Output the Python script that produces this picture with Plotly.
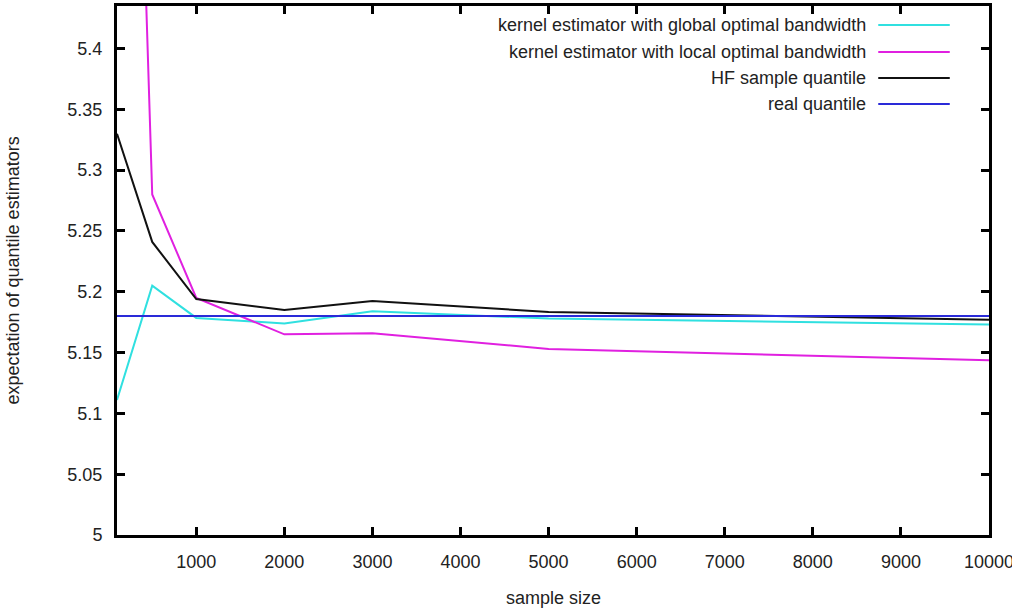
"""Expectation of quantile estimators vs sample size (gnuplot-style line chart)."""

import plotly.graph_objects as go

# sample sizes at which the estimators were evaluated
sample_size = [100, 500, 1000, 2000, 3000, 5000, 10000]

# expectation of each estimator
kernel_global = [5.111, 5.205, 5.1785, 5.174, 5.184, 5.178, 5.173]
kernel_local = [6.2, 5.28, 5.195, 5.165, 5.166, 5.153, 5.1437]
hf_sample = [5.330, 5.241, 5.194, 5.185, 5.1925, 5.1834, 5.177]
real_quantile = [5.18] * len(sample_size)

series_names = [
    "kernel estimator with global optimal bandwidth",
    "kernel estimator with local optimal bandwidth",
    "HF sample quantile",
    "real quantile",
]
series_colors = ["#30e0e0", "#e020e0", "#111111", "#2a2ad8"]

x_ticks = [1000, 2000, 3000, 4000, 5000, 6000, 7000, 8000, 9000, 10000]
x_tick_text = [str(v) for v in x_ticks]
y_ticks = [5, 5.05, 5.1, 5.15, 5.2, 5.25, 5.3, 5.35, 5.4]
y_tick_text = ["5", "5.05", "5.1", "5.15", "5.2", "5.25", "5.3", "5.35", "5.4"]

FONT = "Arial, Liberation Sans, sans-serif"
TEXT_COLOR = "#222222"
FONT_SIZE = 18

fig = go.Figure()

for name, values, color in zip(series_names,
                               [kernel_global, kernel_local, hf_sample, real_quantile],
                               series_colors):
    fig.add_trace(go.Scatter(
        x=sample_size,
        y=values,
        mode="lines",
        name=name,
        line=dict(color=color, width=2),
        showlegend=False,
    ))

# gnuplot-like legend: right-aligned text with the line sample on its right
legend_rows_px = [25, 52, 78, 104]
plot_top, plot_bottom = 6, 535
for name, color, row in zip(series_names, series_colors, legend_rows_px):
    yp = (plot_bottom - row) / (plot_bottom - plot_top)
    fig.add_annotation(
        text=name, x=0.861, y=yp, xref="paper", yref="paper",
        xanchor="right", yanchor="middle", showarrow=False,
        font=dict(family=FONT, size=FONT_SIZE, color=TEXT_COLOR),
    )
    fig.add_shape(
        type="line", x0=0.873, x1=0.955, y0=yp, y1=yp,
        xref="paper", yref="paper", line=dict(color=color, width=2),
    )

# axis titles
fig.add_annotation(
    text="sample size", x=0.5, y=-0.119, xref="paper", yref="paper",
    xanchor="center", yanchor="middle", showarrow=False,
    font=dict(family=FONT, size=FONT_SIZE, color=TEXT_COLOR),
)
fig.add_annotation(
    text="expectation of quantile estimators", x=-0.1204, y=0.5,
    xref="paper", yref="paper", xanchor="center", yanchor="middle",
    textangle=-90, showarrow=False,
    font=dict(family=FONT, size=FONT_SIZE, color=TEXT_COLOR),
)

axis_common = dict(
    showline=True, linecolor="black", linewidth=3, mirror="ticks",
    ticks="inside", ticklen=8, tickwidth=3, tickcolor="black",
    showgrid=False, zeroline=False, automargin=False,
    tickfont=dict(family=FONT, size=FONT_SIZE, color=TEXT_COLOR),
)

fig.update_layout(
    width=1012,
    height=610,
    margin=dict(l=117, r=23, t=6, b=75),
    plot_bgcolor="white",
    paper_bgcolor="white",
    xaxis=dict(range=[100, 10000], tickvals=x_ticks, ticktext=x_tick_text,
               ticklabelstandoff=8, ticklabeloverflow="allow", **axis_common),
    yaxis=dict(range=[5, 5.435], tickvals=y_ticks, ticktext=y_tick_text,
               ticklabelstandoff=8, **axis_common),
)

# drop the default page margin so the figure sits at the window's corner
fig.write_html("out.html", config={"displayModeBar": False},
               post_script="document.body.style.margin='0';")
